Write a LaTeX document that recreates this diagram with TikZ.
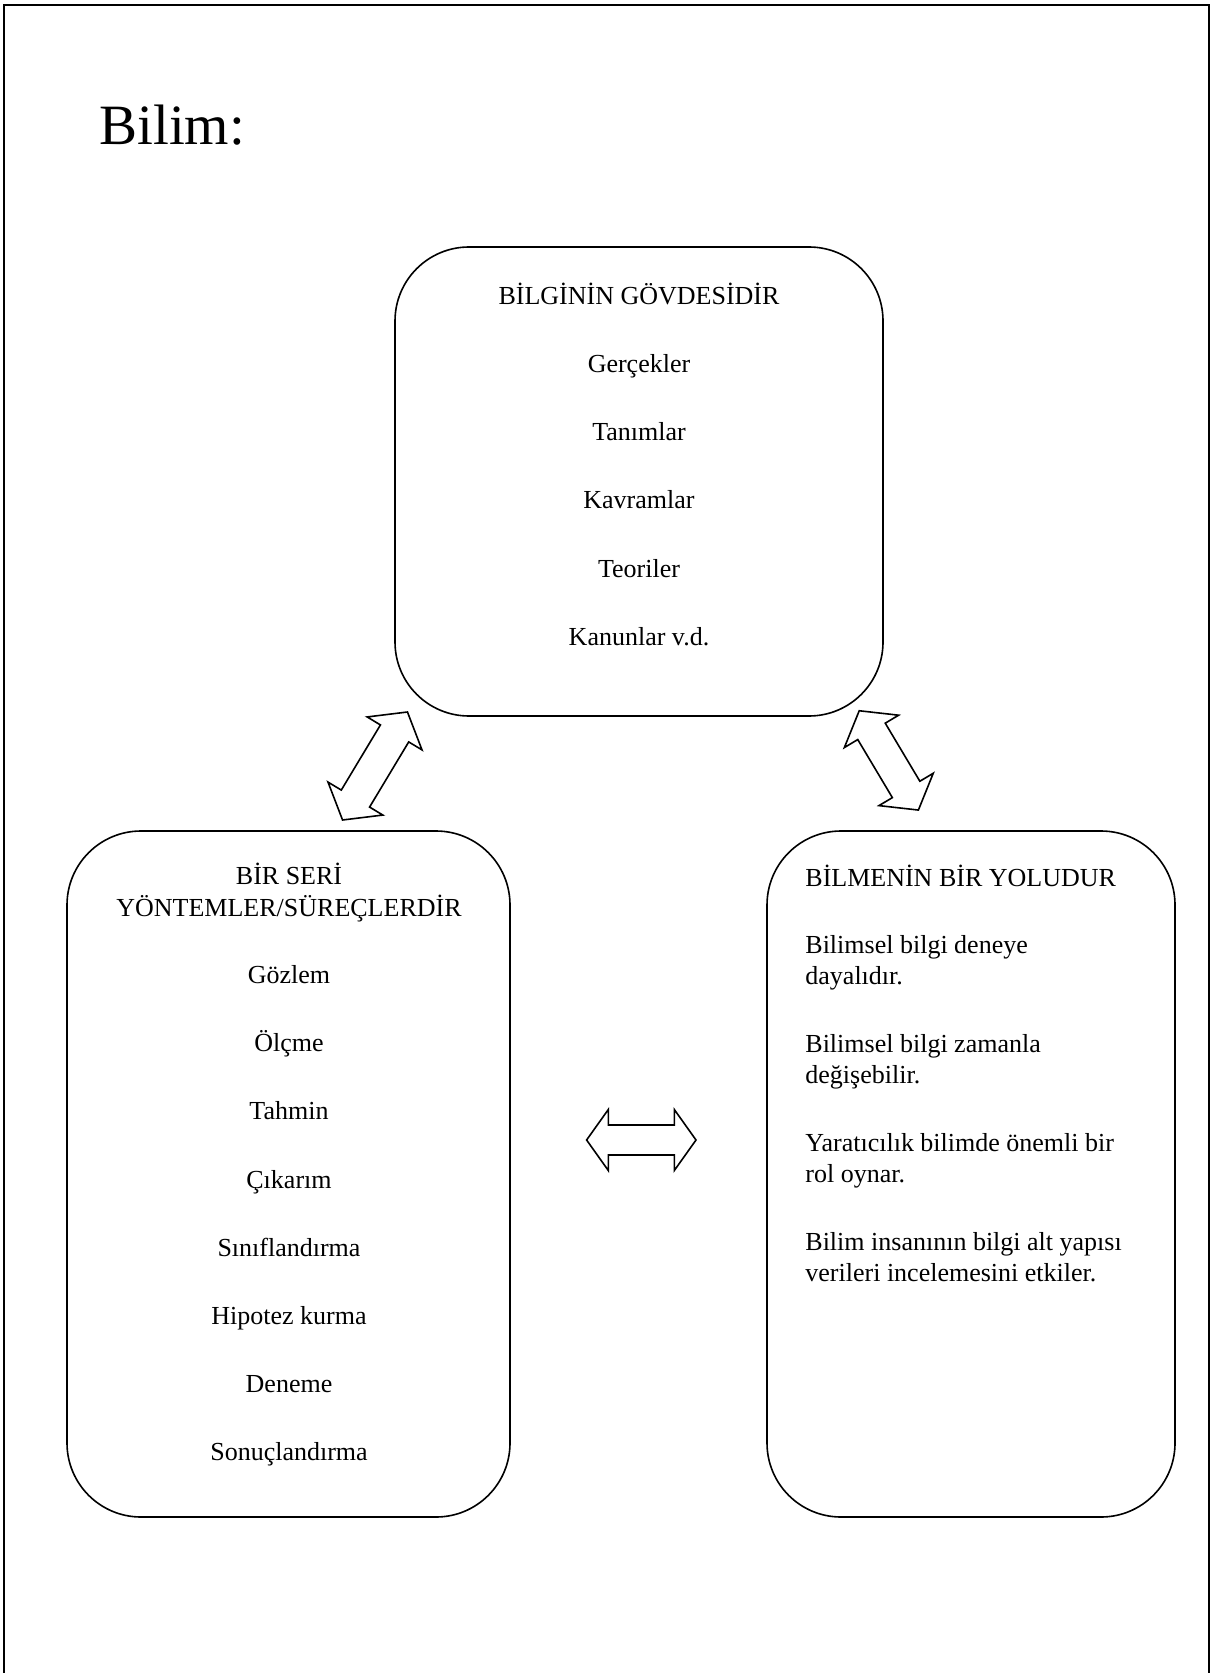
\documentclass[tikz,border=0pt]{standalone}
\usepackage{fontspec}
\setmainfont{Liberation Serif}
\newcommand{\mydblarrow}[6]{% center, angle, half length, head length, head half width, shaft half width
  \begin{scope}[shift={(#1)}, rotate=#2]
    \draw[blockarrow] (#3,0) -- ({#3-#4},#5) -- ({#3-#4},#6) -- ({-#3+#4},#6) -- ({-#3+#4},#5) -- (-#3,0)
      -- ({-#3+#4},-#5) -- ({-#3+#4},-#6) -- ({#3-#4},-#6) -- ({#3-#4},-#5) -- cycle;
  \end{scope}}
\begin{document}
\begin{tikzpicture}[x=0.5pt,y=-0.5pt,
  box/.style={draw, line width=0.8pt, rounded corners=37pt, inner sep=0pt},
  txt/.style={anchor=base, inner sep=0pt, font=\fontsize{13}{15}\selectfont},
  txtl/.style={txt, anchor=base west},
  blockarrow/.style={draw, line width=0.8pt, fill=white, line join=miter}]
\useasboundingbox (0,0) rectangle (1218,1673);
\draw[line width=1pt] (4,1673) -- (4,5) -- (1209,5) -- (1209,1673);

\node[anchor=base west, inner sep=0pt, font=\fontsize{28.5}{34}\selectfont] (title) at (99,145) {Bilim:};

% boxes
\node[box, minimum width=244pt, minimum height=234.5pt] (top) at (639,481.5) {};
\node[box, minimum width=221.5pt, minimum height=343pt] (left) at (288.5,1174) {};
\node[box, minimum width=204pt, minimum height=343pt] (right) at (971,1174) {};

% top box text
\node[txt] (t0) at (639,305) {BİLGİNİN GÖVDESİDİR};
\node[txt] (t1) at (639,373) {Gerçekler};
\node[txt] (t2) at (639,441) {Tanımlar};
\node[txt] (t3) at (639,509) {Kavramlar};
\node[txt] (t4) at (639,577) {Teoriler};
\node[txt] (t5) at (639,645) {Kanunlar v.d.};

% left box text
\node[txt] (l0a) at (289,884) {BİR SERİ};
\node[txt] (l0b) at (289,916) {YÖNTEMLER/SÜREÇLERDİR};
\node[txt] (l1) at (289,983) {Gözlem};
\node[txt] (l2) at (289,1051) {Ölçme};
\node[txt] (l3) at (289,1119) {Tahmin};
\node[txt] (l4) at (289,1188) {Çıkarım};
\node[txt] (l5) at (289,1256) {Sınıflandırma};
\node[txt] (l6) at (289,1324) {Hipotez kurma};
\node[txt] (l7) at (289,1392) {Deneme};
\node[txt] (l8) at (289,1460) {Sonuçlandırma};

% right box text
\node[txtl] (r0) at (805,886) {BİLMENİN BİR YOLUDUR};
\node[txtl] (r1a) at (805,953) {Bilimsel bilgi deneye};
\node[txtl] (r1b) at (805,984) {dayalıdır.};
\node[txtl] (r2a) at (805,1052) {Bilimsel bilgi zamanla};
\node[txtl] (r2b) at (805,1083) {değişebilir.};
\node[txtl] (r3a) at (805,1151) {Yaratıcılık bilimde önemli bir};
\node[txtl] (r3b) at (805,1182) {rol oynar.};
\node[txtl] (r4a) at (805,1250) {Bilim insanının bilgi alt yapısı};
\node[txtl] (r4b) at (805,1281) {verileri incelemesini etkiler.};

% block double arrows
\coordinate (aL) at (375,766);
\coordinate (aR) at (888.8,760.4);
\coordinate (aM) at (641.3,1140);
\mydblarrow{aL}{59}{63}{25}{32}{16.5}
\mydblarrow{aR}{120.8}{57.8}{24}{31.6}{16}
\mydblarrow{aM}{0}{54.7}{21.7}{30.5}{15}
\end{tikzpicture}
\end{document}
